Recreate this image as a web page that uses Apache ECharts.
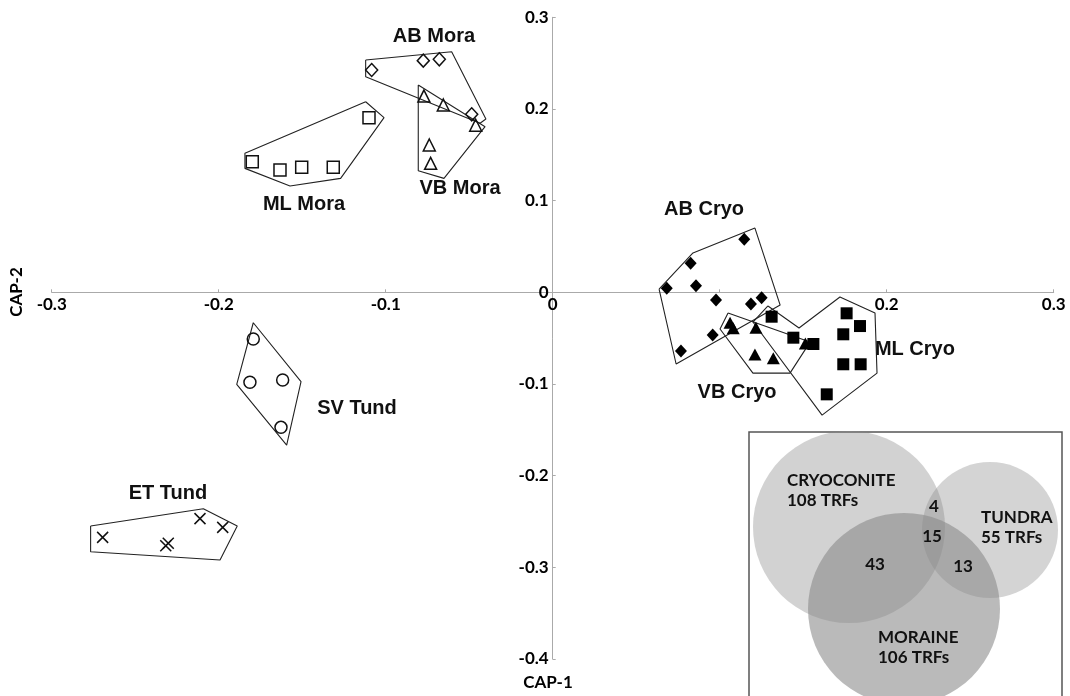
<!DOCTYPE html>
<html>
<head>
<meta charset="utf-8">
<script src="https://cdn.jsdelivr.net/npm/echarts@6/dist/echarts.min.js"></script>
<style>
html,body{margin:0;padding:0;background:#fff;}
#chart{width:1070px;height:696px;}
</style>
</head>
<body>
<div id="chart"></div>
<script>
// ---- data ----
const xTickValues = [-0.3, -0.2, -0.1, 0, 0.1, 0.2, 0.3];
const xTickLabels = ['-0.3', '-0.2', '-0.1', '0', '', '0.2', '0.3'];
const yTickValues = [-0.4, -0.3, -0.2, -0.1, 0, 0.1, 0.2, 0.3];
const yTickLabels = ['-0.4', '-0.3', '-0.2', '-0.1', '0', '0.1', '0.2', '0.3'];

const abMora = [[-0.1084,0.2425],[-0.0775,0.2527],[-0.0679,0.2542],[-0.0485,0.1942]];
const vbMora = [[-0.0771,0.2141],[-0.0655,0.2043],[-0.0461,0.1822],[-0.0739,0.1607],[-0.0731,0.1407]];
const mlMora = [[-0.1100,0.1905],[-0.1799,0.1425],[-0.1633,0.1334],[-0.1503,0.1364],[-0.1314,0.1364]];
const svTund = [[-0.1793,-0.0509],[-0.1813,-0.0982],[-0.1617,-0.0957],[-0.1627,-0.1473]];
const etTund = [[-0.2695,-0.2673],[-0.2317,-0.2764],[-0.2302,-0.2738],[-0.2112,-0.2469],[-0.1976,-0.2564]];
const abCryo = [[0.0683,0.0044],[0.0826,0.0316],[0.0858,0.0072],[0.0978,-0.0084],[0.1147,0.0578],[0.1187,-0.0128],[0.1251,-0.0059],[0.0958,-0.0466],[0.0768,-0.0640]];
const vbCryo = [[0.1062,-0.0331],[0.1081,-0.0393],[0.1217,-0.0386],[0.1211,-0.0677],[0.1321,-0.0720],[0.1513,-0.0557]];
const mlCryo = [[0.1311,-0.0266],[0.1441,-0.0495],[0.1561,-0.0564],[0.1760,-0.0229],[0.1840,-0.0368],[0.1740,-0.0458],[0.1740,-0.0785],[0.1844,-0.0785],[0.1641,-0.1113]];

const abMoraHull = [[-0.112,0.2534],[-0.0605,0.2625],[-0.040,0.189],[-0.0435,0.1845],[-0.112,0.2352]];
const vbMoraHull = [[-0.0805,0.2261],[-0.0405,0.1807],[-0.0651,0.1243],[-0.0805,0.1327]];
const mlMoraHull = [[-0.112,0.2079],[-0.101,0.1905],[-0.127,0.1243],[-0.1573,0.116],[-0.1843,0.1352],[-0.1843,0.1516]];
const svTundHull = [[-0.1793,-0.0332],[-0.1507,-0.0975],[-0.1593,-0.1666],[-0.1892,-0.1004]];
const etTundHull = [[-0.2767,-0.2549],[-0.2092,-0.2361],[-0.1889,-0.2549],[-0.1992,-0.292],[-0.2767,-0.283]];
const abCryoHull = [[0.0637,0.0036],[0.0840,0.0429],[0.1211,0.0701],[0.1362,-0.0139],[0.0739,-0.0782]];
const vbCryoHull = [[0.1050,-0.0226],[0.1541,-0.0543],[0.1421,-0.0881],[0.1199,-0.0881],[0.1002,-0.0400]];
const mlCryoHull = [[0.1289,-0.0149],[0.1475,-0.0389],[0.1720,-0.0051],[0.1930,-0.0226],[0.1942,-0.0881],[0.1613,-0.1339],[0.1199,-0.0324]];

const groupNames = ['AB Mora','ML Mora','VB Mora','AB Cryo','ML Cryo','VB Cryo','SV Tund','ET Tund'];
const groupLabelAt = [[-0.0711,0.2790],[-0.1489,0.0955],[-0.0555,0.1138],[0.0906,0.0909],[0.2169,-0.0619],[0.1104,-0.1088],[-0.1172,-0.1262],[-0.2304,-0.2190]];

const vennSets = ['CRYOCONITE', 'TUNDRA', 'MORAINE'];
const vennTotals = [108, 55, 106];
const vennCryoTundra = 4;
const vennAll = 15;
const vennCryoMoraine = 43;
const vennMoraineTundra = 13;

// ---- chart ----
const chart = echarts.init(document.getElementById('chart'), null, {renderer: 'canvas'});
const tickFont = {fontFamily: 'Lato', fontWeight: 'bold', fontSize: 17, color: '#000'};

function pts(name, data, symbol, size, filled) {
  return {
    type: 'scatter', name, data, symbol, symbolSize: size, z: 5,
    itemStyle: filled ? {color: '#000', opacity: 1} : {color: 'rgba(255,255,255,0)', borderColor: '#111', borderWidth: 1.5, opacity: 1},
    emphasis: {disabled: true}
  };
}
function hull(name, data) {
  return {
    type: 'line', name, data: data.concat([data[0]]), symbol: 'none', z: 4,
    lineStyle: {color: '#222', width: 1.1}, emphasis: {disabled: true}, animation: false
  };
}
function textSeries(name, data, label) {
  return {
    type: 'scatter', name, data, symbolSize: 0, z: 6, clip: false,
    itemStyle: {opacity: 1},
    label: Object.assign({show: true, formatter: '{b}'}, label),
    emphasis: {disabled: true}
  };
}
const crossPath = 'path://M0,0L10,10M10,0L0,10';

const option = {
  backgroundColor: '#fff',
  animation: false,
  grid: {left: 51.7, right: 16.3, top: 17.3, bottom: 37, containLabel: false},
  xAxis: {
    type: 'value', min: -0.3, max: 0.3, interval: 0.1,
    splitLine: {show: false},
    axisLine: {onZero: true, lineStyle: {color: '#aaa', width: 1}},
    axisTick: {show: true, inside: true, length: 3, lineStyle: {color: '#aaa'}},
    axisLabel: {show: false}
  },
  yAxis: {
    type: 'value', min: -0.4, max: 0.3, interval: 0.1,
    splitLine: {show: false},
    axisLine: {onZero: true, lineStyle: {color: '#aaa', width: 1}},
    axisTick: {show: true, inside: true, length: 3, lineStyle: {color: '#aaa'}},
    axisLabel: {show: false}
  },
  series: [
    hull('AB Mora hull', abMoraHull), hull('VB Mora hull', vbMoraHull), hull('ML Mora hull', mlMoraHull),
    hull('SV Tund hull', svTundHull), hull('ET Tund hull', etTundHull),
    hull('AB Cryo hull', abCryoHull), hull('VB Cryo hull', vbCryoHull), hull('ML Cryo hull', mlCryoHull),
    pts('AB Mora', abMora, 'diamond', [12, 13], false),
    pts('VB Mora', vbMora, 'triangle', [12, 12], false),
    pts('ML Mora', mlMora, 'rect', 12, false),
    pts('SV Tund', svTund, 'circle', 12, false),
    {
      type: 'scatter', name: 'ET Tund', data: etTund, symbol: crossPath, symbolSize: 11, z: 5,
      itemStyle: {color: 'rgba(0,0,0,0)', borderColor: '#111', borderWidth: 1.5, opacity: 1}, emphasis: {disabled: true}
    },
    pts('AB Cryo', abCryo, 'diamond', [12, 13], true),
    pts('VB Cryo', vbCryo, 'triangle', [13, 12], true),
    pts('ML Cryo', mlCryo, 'rect', 12, true),
    textSeries('group labels', groupNames.map((n, i) => ({name: n, value: groupLabelAt[i]})),
      {position: 'inside', fontFamily: 'Liberation Sans', fontWeight: 'bold', fontSize: 20, color: '#111'}),
    textSeries('x tick labels', xTickValues.map((v, i) => ({name: xTickLabels[i], value: [v, 0]})),
      Object.assign({position: 'bottom', distance: 4}, tickFont)),
    textSeries('y tick labels', yTickValues.map((v, i) => ({name: yTickLabels[i], value: [0, v]})),
      Object.assign({position: 'left', distance: 4}, tickFont))
  ],
  graphic: [
    {type: 'text', z: 50, x: 548, y: 683, style: {text: 'CAP-1', font: 'bold 17px Lato', fill: '#000', align: 'center', verticalAlign: 'middle'}},
    {type: 'text', z: 50, x: 17, y: 292, rotation: Math.PI / 2, style: {text: 'CAP-2', font: 'bold 17px Lato', fill: '#000', align: 'center', verticalAlign: 'middle'}},
    {type: 'rect', z: 40, shape: {x: 749, y: 432, width: 313, height: 280}, style: {fill: '#fff', stroke: '#555', lineWidth: 1.5}},
    {type: 'circle', z: 41, shape: {cx: 849, cy: 527, r: 96}, style: {fill: 'rgba(136,136,136,0.38)'}},
    {type: 'circle', z: 41, shape: {cx: 990, cy: 530, r: 68}, style: {fill: 'rgba(136,136,136,0.36)'}},
    {type: 'circle', z: 41, shape: {cx: 904, cy: 609, r: 96}, style: {fill: 'rgba(136,136,136,0.58)'}},
    {type: 'text', z: 45, x: 787, y: 471, style: {text: vennSets[0] + '\n' + vennTotals[0] + ' TRFs', font: 'bold 17px Lato', fill: '#111', lineHeight: 20}},
    {type: 'text', z: 45, x: 981, y: 508, style: {text: vennSets[1] + '\n' + vennTotals[1] + ' TRFs', font: 'bold 17px Lato', fill: '#111', lineHeight: 20}},
    {type: 'text', z: 45, x: 878, y: 628, style: {text: vennSets[2] + '\n' + vennTotals[2] + ' TRFs', font: 'bold 17px Lato', fill: '#111', lineHeight: 20}},
    {type: 'text', z: 45, x: 934, y: 507, style: {text: String(vennCryoTundra), font: 'bold 17px Lato', fill: '#111', align: 'center', verticalAlign: 'middle'}},
    {type: 'text', z: 45, x: 932, y: 537, style: {text: String(vennAll), font: 'bold 17px Lato', fill: '#111', align: 'center', verticalAlign: 'middle'}},
    {type: 'text', z: 45, x: 875, y: 565, style: {text: String(vennCryoMoraine), font: 'bold 17px Lato', fill: '#111', align: 'center', verticalAlign: 'middle'}},
    {type: 'text', z: 45, x: 963, y: 567, style: {text: String(vennMoraineTundra), font: 'bold 17px Lato', fill: '#111', align: 'center', verticalAlign: 'middle'}}
  ]
};
chart.setOption(option);
</script>
</body>
</html>
